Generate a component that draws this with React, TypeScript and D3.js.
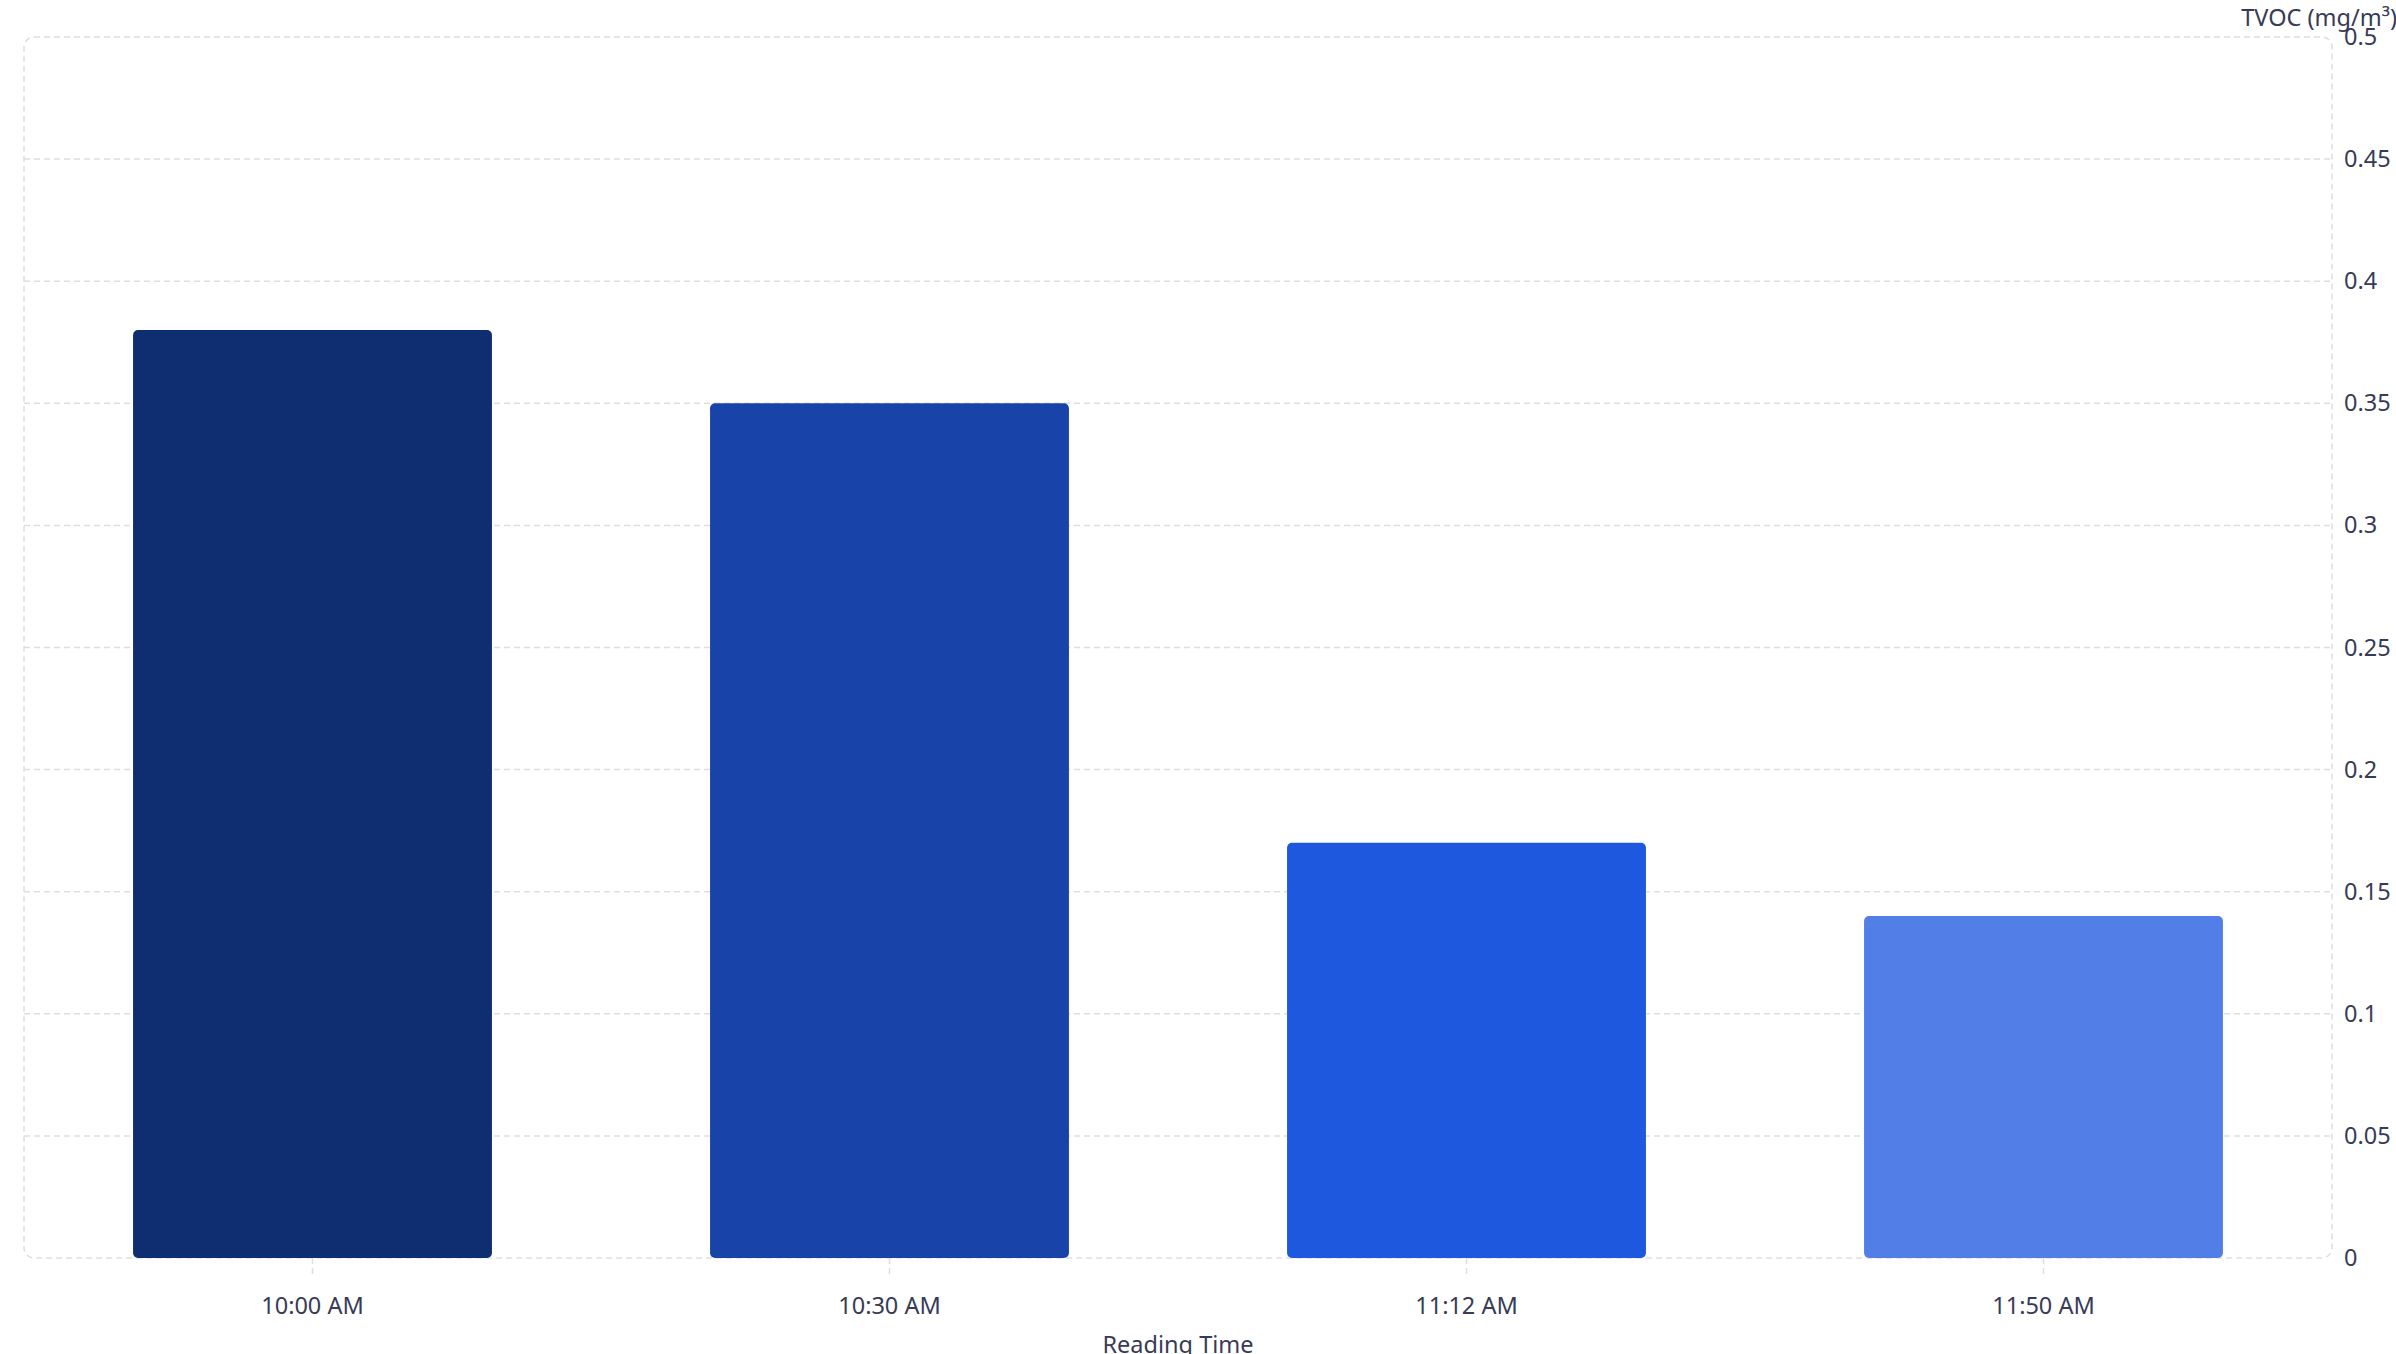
import { useEffect, useRef } from "react";
import * as d3 from "d3";

const WIDTH = 2396;
const HEIGHT = 1354;

const readingTimes = ["10:00 AM", "10:30 AM", "11:12 AM", "11:50 AM"];
const tvocValues = [0.38, 0.35, 0.17, 0.14];
const barColors = ["#0f2d71", "#1843a8", "#1e58df", "#527ee8"];
const yTicks = [0, 0.05, 0.1, 0.15, 0.2, 0.25, 0.3, 0.35, 0.4, 0.45, 0.5];

const margin = { top: 37, right: 64, bottom: 96, left: 24 };

const colors = {
  GRID: "#dedede",
  TEXT: "#373b57",
};

const FONT = "'Noto Sans', 'Open Sans', sans-serif";
const FONT_SIZE = "23.5px";

export default function App() {
  const ref = useRef<SVGSVGElement | null>(null);

  useEffect(() => {
    const svg = d3.select(ref.current);
    svg.selectAll("*").remove();

    const innerW = WIDTH - margin.left - margin.right;
    const innerH = HEIGHT - margin.top - margin.bottom;

    const x = d3
      .scaleBand<string>()
      .domain(readingTimes)
      .range([0, innerW])
      .paddingInner(0.378)
      .paddingOuter(0.189);

    const y = d3.scaleLinear().domain([0, 0.5]).range([innerH, 0]);

    const g = svg.append("g").attr("transform", `translate(${margin.left},${margin.top})`);

    // horizontal grid lines
    g.append("g")
      .selectAll("line")
      .data(yTicks.filter((d) => d > 0 && d < 0.5))
      .enter()
      .append("line")
      .attr("x1", 0)
      .attr("x2", innerW)
      .attr("y1", (d) => y(d))
      .attr("y2", (d) => y(d))
      .style("stroke", colors.GRID)
      .style("stroke-width", 1.5)
      .style("stroke-dasharray", "6, 4");

    // dashed frame around the plot
    g.append("rect")
      .attr("x", 0)
      .attr("y", 0)
      .attr("width", innerW)
      .attr("height", innerH)
      .attr("rx", 10)
      .style("fill", "none")
      .style("stroke", colors.GRID)
      .style("stroke-width", 1.5)
      .style("stroke-dasharray", "6, 4");

    // bars
    g.append("g")
      .selectAll("rect")
      .data(tvocValues)
      .enter()
      .append("rect")
      .attr("x", (_, i) => x(readingTimes[i]) ?? 0)
      .attr("y", (d) => y(d))
      .attr("width", x.bandwidth())
      .attr("height", (d) => innerH - y(d))
      .attr("rx", 5)
      .style("fill", (_, i) => barColors[i]);

    // x axis (dashed ticks, no domain line)
    const xAxis = g
      .append("g")
      .attr("transform", `translate(0,${innerH})`)
      .call(d3.axisBottom(x).tickSize(18).tickPadding(21));
    xAxis.select(".domain").remove();
    xAxis
      .selectAll(".tick line")
      .style("stroke", colors.GRID)
      .style("stroke-width", 1.5)
      .style("stroke-dasharray", "6, 4");
    xAxis
      .selectAll(".tick text")
      .attr("fill", colors.TEXT)
      .style("font-family", FONT)
      .style("font-size", FONT_SIZE);

    // y axis on the right
    const yAxis = g
      .append("g")
      .attr("transform", `translate(${innerW},0)`)
      .call(
        d3
          .axisRight(y)
          .tickValues(yTicks)
          .tickSize(0)
          .tickPadding(12)
          .tickFormat((d) => d3.format("~g")(d as number))
      );
    yAxis.select(".domain").remove();
    yAxis
      .selectAll(".tick text")
      .attr("fill", colors.TEXT)
      .style("font-family", FONT)
      .style("font-size", FONT_SIZE);

    // axis titles
    svg
      .append("text")
      .attr("x", WIDTH + 1)
      .attr("y", 26)
      .attr("text-anchor", "end")
      .attr("fill", colors.TEXT)
      .style("font-family", FONT)
      .style("font-size", FONT_SIZE)
      .text("TVOC (mg/m³)");

    svg
      .append("text")
      .attr("x", margin.left + innerW / 2)
      .attr("y", 1353)
      .attr("text-anchor", "middle")
      .attr("fill", colors.TEXT)
      .style("font-family", FONT)
      .style("font-size", FONT_SIZE)
      .text("Reading Time");
  }, []);

  return (
    <svg
      ref={ref}
      width={WIDTH}
      height={HEIGHT}
      style={{ position: "absolute", left: 0, top: 0, background: "#fff", display: "block" }}
    />
  );
}
